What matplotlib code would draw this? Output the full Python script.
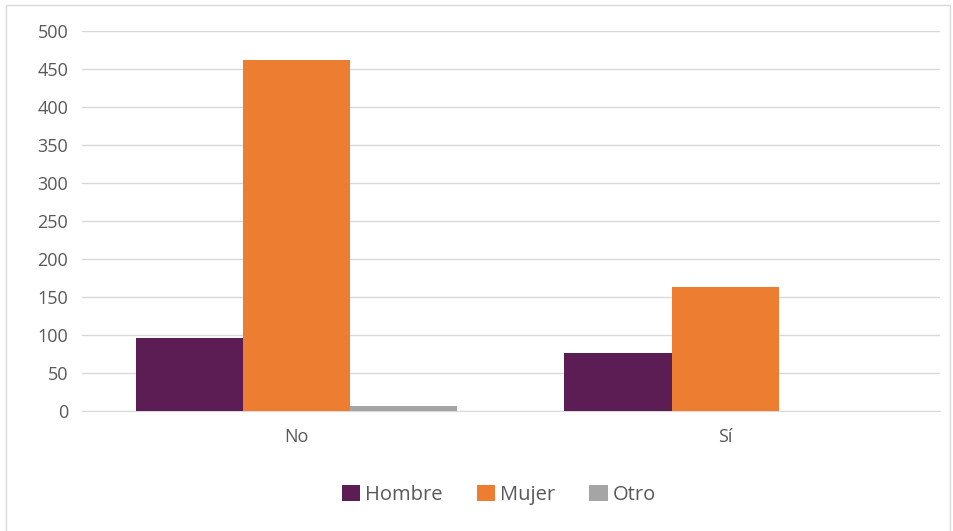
import matplotlib.pyplot as plt
import matplotlib.patches as mpatches
import numpy as np

plt.rcParams['font.family'] = ['Open Sans', 'DejaVu Sans']

categories = ['No', 'Sí']
series = ['Hombre', 'Mujer', 'Otro']
hombre = [96, 76]
mujer = [462, 163]
otro = [7, 0]
colors = ['#5c1d55', '#ed7d31', '#a5a5a5']
yticks = [0, 50, 100, 150, 200, 250, 300, 350, 400, 450, 500]

fig = plt.figure(figsize=(9.54, 5.31), dpi=100)
fig.patches.append(mpatches.Rectangle((0.006, -0.01), 0.99, 1.0, transform=fig.transFigure,
                                      fill=False, edgecolor='#d9d9d9', lw=1))
ax = fig.add_axes([0.086, 0.226, 0.899, 0.716])

x = np.arange(len(categories))
w = 0.25
for i, (name, vals) in enumerate(zip(series, [hombre, mujer, otro])):
    ax.bar(x + (i - 1) * w, vals, width=w, color=colors[i], label=name, zorder=3)

ax.set_xlim(-0.5, 1.5)
ax.set_ylim(0, 500)
ax.set_yticks(yticks)
ax.set_xticks(x)
ax.set_xticklabels(categories)
ax.grid(axis='y', color='#d9d9d9', lw=1, zorder=0)
for s in ['top', 'right', 'left']:
    ax.spines[s].set_visible(False)
ax.spines['bottom'].set_color('#d9d9d9')
ax.tick_params(length=0, labelsize=13, colors='#595959', pad=10)
ax.tick_params(axis='x', pad=12)

fig.legend(loc='center', bbox_to_anchor=(0.523, 0.068), ncol=3, frameon=False,
           fontsize=14.5, labelcolor='#595959', handlelength=0.9, handleheight=0.9,
           handletextpad=0.25, columnspacing=1.7)

fig.savefig('out.png', dpi=100)
